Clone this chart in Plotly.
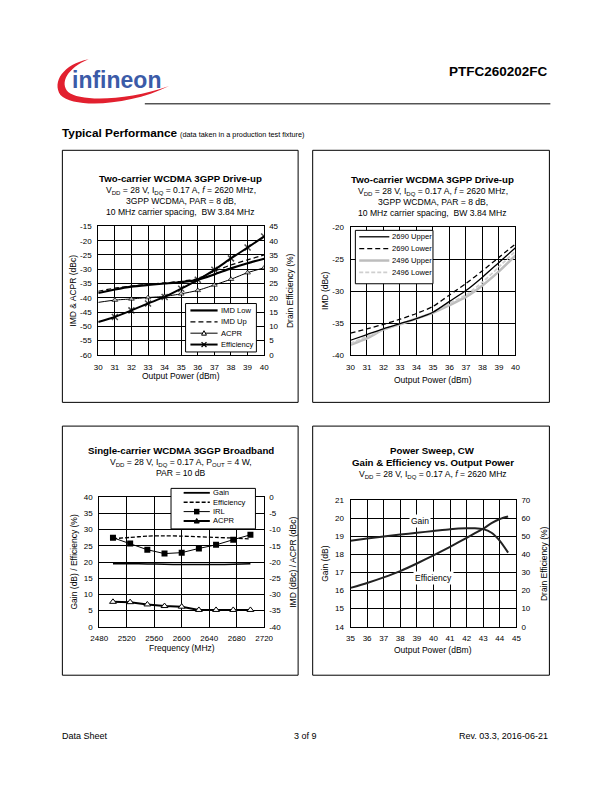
import plotly.graph_objects as go

# Figure kept slightly smaller than the 612x792 window so the page never
# overflows; coordinates below are page pixels measured on the reference.
W, H = 604, 784
FONT = "Liberation Sans, Arial, Helvetica, sans-serif"

def px(x):
    return x / W

def py(y):
    return 1 - y / H

# ---------------- data ----------------
# Chart 1: Two-carrier WCDMA drive-up
c1_pout = [30, 31, 32, 33, 34, 35, 36, 37, 38, 39, 40]
c1_imd_low = [-38.3, -37.1, -36.1, -35.5, -35.0, -34.5, -33.7, -31.8, -29.7, -27.9, -26.3]
c1_imd_up = [-37.7, -36.6, -35.9, -35.3, -34.8, -34.2, -33.3, -30.7, -28.5, -26.7, -25.0]
c1_acpr = [-41.6, -40.8, -40.4, -39.9, -39.5, -38.6, -37.4, -35.5, -33.5, -31.2, -29.5]
c1_eff = [11.5, 13.3, 15.6, 18.0, 20.3, 23.2, 26.3, 29.8, 33.8, 37.6, 41.5]
c1_left_ticks = [-60, -55, -50, -45, -40, -35, -30, -25, -20, -15]

# Chart 2: IMD vs output power at two frequencies
c2_pout = [30, 31, 32, 33, 34, 35, 36, 37, 38, 39, 40]
c2_2690_upper = [-37.7, -36.8, -35.9, -35.1, -34.3, -33.3, -31.6, -29.9, -27.8, -25.5, -23.2]
c2_2690_lower = [-36.6, -35.9, -35.2, -34.4, -33.5, -32.4, -30.6, -28.8, -26.8, -24.7, -22.6]
c2_2496_upper = [-38.4, -37.4, -36.0, -35.2, -34.3, -33.4, -32.2, -30.9, -29.1, -26.9, -24.4]
c2_2496_lower = [-38.2, -37.1, -36.1, -35.2, -34.3, -33.3, -31.9, -30.6, -28.6, -26.2, -23.7]
c2_ticks = [-40, -35, -30, -25, -20]

# Chart 3: Single-carrier broadband
c3_freq = [2500, 2525, 2550, 2575, 2600, 2625, 2650, 2675, 2700]
c3_gain = [19.5, 19.5, 19.4, 19.3, 19.2, 19.2, 19.2, 19.3, 19.5]
c3_eff = [27.2, 27.6, 28.0, 28.1, 28.0, 27.8, 27.6, 27.4, 27.1]
c3_irl = [-12.5, -14.3, -16.2, -17.4, -17.1, -15.8, -14.7, -13.1, -11.6]
c3_acpr = [-32.3, -32.4, -33.1, -33.6, -33.8, -34.8, -34.8, -34.8, -34.8]
c3_right_ticks = [-40, -35, -30, -25, -20, -15, -10, -5, 0]

# Chart 4: Power sweep CW
c4_pout = [35, 36, 37, 38, 39, 40, 41, 42, 42.5, 43, 43.5, 44, 44.5]
c4_gain = [18.76, 18.88, 19.0, 19.1, 19.2, 19.3, 19.4, 19.45, 19.45, 19.4, 19.2, 18.75, 18.1]
c4_eff = [21.5, 24.2, 27.3, 30.8, 35.0, 39.5, 44.2, 49.2, 51.8, 54.3, 57.3, 59.6, 61.0]

# ---------------- figure ----------------
fig = go.Figure()

def add(x, y, xa, ya, color="black", width=1, dash="solid", shape="spline",
        marker=None, name=""):
    mode = "lines+markers" if marker else "lines"
    tr = dict(x=x, y=y, xaxis=xa, yaxis=ya, mode=mode, name=name,
              showlegend=False, hoverinfo="skip",
              line=dict(color=color, width=width, dash=dash, shape=shape,
                        smoothing=0.6))
    if marker:
        tr["marker"] = marker
    fig.add_trace(go.Scatter(**tr))

# Chart 1
add(c1_pout, c1_imd_low, "x", "y", width=2.2, name="IMD Low")
add(c1_pout, c1_imd_up, "x", "y", width=1.2, dash="5px,3px", name="IMD Up")
add(c1_pout, c1_acpr, "x", "y", width=1, name="ACPR",
    marker=dict(symbol="triangle-up", size=[0] + [5] * 10, color="white",
                line=dict(color="black", width=1)))
add(c1_pout, c1_eff, "x", "y2", width=2.0, name="Efficiency",
    marker=dict(symbol="x-thin-open", size=[0] + [6] * 10, color="black",
                line=dict(color="black", width=1.5)))

# Chart 2
add(c2_pout, c2_2496_upper, "x2", "y3", color="#BDBDBD", width=2.5, name="2496 Upper")
add(c2_pout, c2_2496_lower, "x2", "y3", color="#CFCFCF", width=1.8, dash="4px,2px", name="2496 Lower")
add(c2_pout, c2_2690_upper, "x2", "y3", color="black", width=1.3, name="2690 Upper")
add(c2_pout, c2_2690_lower, "x2", "y3", color="black", width=1.3, dash="5px,3px", name="2690 Lower")

# Chart 3
add(c3_freq, c3_gain, "x3", "y4", width=1.5, name="Gain")
add(c3_freq, c3_eff, "x3", "y4", width=1.3, dash="4px,2px", name="Efficiency")
add(c3_freq, c3_irl, "x3", "y5", width=1, shape="linear", name="IRL",
    marker=dict(symbol="square", size=6, color="black"))
add(c3_freq, c3_acpr, "x3", "y5", width=2, shape="linear", name="ACPR",
    marker=dict(symbol="triangle-up", size=6, color="white",
                line=dict(color="black", width=1)))

# Chart 4
add(c4_pout, c4_gain, "x4", "y6", color="#222222", width=2, name="Gain")
add(c4_pout, c4_eff, "x4", "y7", color="#222222", width=2, name="Efficiency")

# ---------------- axes ----------------
def base_axis(domain, rng, dtick, anchor, grid=True, ticks=None):
    d = dict(domain=domain, range=rng, dtick=dtick, tick0=rng[0], anchor=anchor,
             showline=True, mirror=True, linecolor="black", linewidth=1,
             showgrid=grid, gridcolor="black", gridwidth=1, zeroline=False,
             ticks="", ticklabelstandoff=4, fixedrange=True,
             tickfont=dict(size=8, color="black", family=FONT))
    if ticks is not None:
        d.update(tickmode="array", tickvals=ticks, ticktext=[str(t) for t in ticks])
    return d

def right_axis(rng, dtick, anchor, overlay, ticks=None):
    d = base_axis(None, rng, dtick, anchor, grid=False, ticks=ticks)
    d.pop("domain")
    d.update(side="right", overlaying=overlay, showline=False, mirror=False)
    return d

c1x = [px(92), px(263)]
c1y = [py(355), py(225)]
c2x = [px(352), px(522)]
c2y = [py(355), py(226)]
c3x = [px(93), px(263)]
c3y = [py(630), py(499)]
c4x = [px(352), px(523)]
c4y = [py(630), py(502)]

fig.update_layout(
    xaxis=base_axis(c1x, [30, 40], 1, "y"),
    yaxis=base_axis(c1y, [-60, -15], 5, "x", ticks=c1_left_ticks),
    yaxis2=right_axis([0, 45], 5, "x", "y"),
    xaxis2=base_axis(c2x, [30, 40], 1, "y3"),
    yaxis3=base_axis(c2y, [-40, -20], 5, "x2", ticks=c2_ticks),
    xaxis3=base_axis(c3x, [2480, 2720], 40, "y4"),
    yaxis4=base_axis(c3y, [0, 40], 5, "x3"),
    yaxis5=right_axis([-40, 0], 5, "x3", "y4", ticks=c3_right_ticks),
    xaxis4=base_axis(c4x, [35, 45], 1, "y6"),
    yaxis6=base_axis(c4y, [14, 21], 1, "x4"),
    yaxis7=right_axis([0, 70], 10, "x4", "y6"),
)

# ---------------- shapes & annotations ----------------
shapes = []
annots = []

def P(x, y):
    return f"{px(x):.5f},{py(y):.5f}"

def rect(x0, y0, x1, y1, width=1, fill="rgba(0,0,0,0)"):
    shapes.append(dict(type="rect", xref="paper", yref="paper",
                       x0=px(x0), x1=px(x1), y0=py(y0), y1=py(y1),
                       line=dict(color="black", width=width), fillcolor=fill))

def hline(x0, x1, y, color="black", width=1, dash="solid"):
    shapes.append(dict(type="line", xref="paper", yref="paper",
                       x0=px(x0), x1=px(x1), y0=py(y), y1=py(y),
                       line=dict(color=color, width=width, dash=dash)))

def text(x, y, s, size=9, bold=False, anchor="center", angle=0, color="black",
         family=FONT, bg=None, xref="paper", yref="paper"):
    if bold:
        s = f"<b>{s}</b>"
    a = dict(x=px(x) if xref == "paper" else x, y=py(y) if yref == "paper" else y,
             xref=xref, yref=yref, text=s, showarrow=False,
             xanchor=anchor, yanchor="middle", textangle=angle,
             font=dict(size=size, color=color, family=family))
    if bg:
        a["bgcolor"] = bg
    annots.append(a)

# Panel frames
rect(55, 148, 298, 403)
rect(313, 148, 557, 403)
rect(55, 427, 298, 679)
rect(313, 427, 557, 679)

# Header
shapes.append(dict(type="path", xref="paper", yref="paper",
                   path=(f"M {P(82,56)} C {P(56,61)} {P(44,79)} {P(53,92)} "
                         f"C {P(67,106)} {P(124,103)} {P(165,83)} "
                         f"C {P(122,98)} {P(73,99)} {P(61,89)} "
                         f"C {P(52,80)} {P(60,65)} {P(82,56)} Z"),
                   fillcolor="#E2202F", line=dict(width=0)))
text(111, 77, "infineon", size=23, bold=True, color="#3B5BA8")
text(558, 68, "PTFC260202FC", size=13.5, bold=True, anchor="right")
hline(140, 558, 101, width=1)
text(53, 131, "Typical Performance", size=11.8, bold=True, anchor="left")
text(174, 132, "(data taken in a production test fixture)", size=7.3, anchor="left")

# Footer
text(53, 741, "Data Sheet", size=9, anchor="left")
text(306, 741, "3 of 9", size=9)
text(558, 741, "Rev. 03.3, 2016-06-21", size=9, anchor="right")

SUB = "V<sub>DD</sub> = 28 V, I<sub>DQ</sub> = 0.17 A, <i>f</i> = 2620 MHz,"
TS, SS, AS = 9.7, 8.6, 8.5

# Chart 1 titles
text(177, 177, "Two-carrier WCDMA 3GPP Drive-up", size=TS, bold=True)
text(177, 188.5, SUB, size=SS)
text(177, 199.5, "3GPP WCDMA, PAR = 8 dB,", size=SS)
text(177, 210.5, "10 MHz carrier spacing,  BW 3.84 MHz", size=SS)
text(66, 290, "IMD & ACPR (dBc)", size=AS, angle=-90)
text(289, 290, "Drain Efficiency (%)", size=AS, angle=-90)
text(177, 376, "Output Power (dBm)", size=AS)

# Chart 2 titles
text(437, 178, "Two-carrier WCDMA 3GPP Drive-up", size=TS, bold=True)
text(437, 189.5, SUB, size=SS)
text(437, 200.5, "3GPP WCDMA, PAR = 8 dB,", size=SS)
text(437, 211.5, "10 MHz carrier spacing,  BW 3.84 MHz", size=SS)
text(325, 290, "IMD (dBc)", size=AS, angle=-90)
text(437, 380, "Output Power (dBm)", size=AS)

# Chart 3 titles
text(177, 452, "Single-carrier WCDMA 3GGP Broadband", size=TS, bold=True)
text(177, 463.5, "V<sub>DD</sub> = 28 V, I<sub>DQ</sub> = 0.17 A, P<sub>OUT</sub> = 4 W,", size=SS)
text(177, 474, "PAR = 10 dB", size=SS)
text(67, 565, "Gain (dB) / Efficiency (%)", size=AS, angle=-90)
text(292, 565, "IMD (dBc) / ACPR (dBc)", size=AS, angle=-90)
text(178, 651, "Frequency (MHz)", size=AS)

# Chart 4 titles
text(437, 452, "Power Sweep, CW", size=TS, bold=True)
text(437, 464, "Gain & Efficiency vs. Output Power", size=TS, bold=True)
text(437, 476, "V<sub>DD</sub> = 28 V, I<sub>DQ</sub> = 0.17 A, <i>f</i> = 2620 MHz", size=SS)
text(325, 566, "Gain (dB)", size=AS, angle=-90)
text(551, 566, "Drain Efficiency (%)", size=AS, angle=-90)
text(437, 653, "Output Power (dBm)", size=AS)
# in-plot labels chart 4
text(39.2, 19.83, "Gain", size=AS, bg="white", xref="x4", yref="y6")
text(40.0, 16.7, "Efficiency", size=AS, bg="white", xref="x4", yref="y6")

# ---------------- custom legends ----------------
def tri(cx, cy, s=3, fill="white"):
    shapes.append(dict(type="path", xref="paper", yref="paper",
                       path=f"M {P(cx-s, cy+s*0.8)} L {P(cx+s, cy+s*0.8)} L {P(cx, cy-s)} Z",
                       fillcolor=fill, line=dict(color="black", width=1)))

def sq(cx, cy, s=2.8):
    shapes.append(dict(type="rect", xref="paper", yref="paper",
                       x0=px(cx-s), x1=px(cx+s), y0=py(cy+s), y1=py(cy-s),
                       fillcolor="black", line=dict(color="black", width=0)))

def xmark(cx, cy, s=2.5):
    for d in (1, -1):
        shapes.append(dict(type="line", xref="paper", yref="paper",
                           x0=px(cx-s), x1=px(cx+s), y0=py(cy-s*d), y1=py(cy+s*d),
                           line=dict(color="black", width=1.2)))

LS = 7.6
# Legend chart 1
rect(182, 303, 255, 352, fill="white")
rows = [310, 321.5, 333, 344.5]
hline(187, 215, rows[0], width=2.2)
hline(187, 215, rows[1], width=1.2, dash="5px,3px")
hline(187, 215, rows[2], width=1)
tri(201, rows[2], s=2.5)
hline(187, 215, rows[3], width=2)
xmark(201, rows[3])
for r, s in zip(rows, ["IMD Low", "IMD Up", "ACPR", "Efficiency"]):
    text(216, r, s, size=LS, anchor="left")

# Legend chart 2
rect(357, 229, 437, 283, fill="white")
rows = [235.5, 247.5, 259.5, 271.5]
hline(361, 392, rows[0], width=1.3)
hline(361, 392, rows[1], width=1.3, dash="5px,3px")
hline(361, 392, rows[2], color="#BDBDBD", width=2.5)
hline(361, 392, rows[3], color="#CFCFCF", width=1.8, dash="4px,2px")
for r, s in zip(rows, ["2690 Upper", "2690 Lower", "2496 Upper", "2496 Lower"]):
    text(393, r, s, size=LS, anchor="left")

# Legend chart 3
rect(167, 490, 254, 531, fill="white")
rows = [494.5, 504, 513.5, 523]
hline(180, 207, rows[0], width=1.8)
hline(180, 207, rows[1], width=1.4, dash="4px,2px")
hline(180, 207, rows[2], width=1)
sq(193.5, rows[2])
hline(180, 207, rows[3], width=2)
tri(193.5, rows[3], s=2.6, fill="black")
for r, s in zip(rows, ["Gain", "Efficiency", "IRL", "ACPR"]):
    text(208, r, s, size=LS, anchor="left")

fig.update_layout(
    width=W, height=H, margin=dict(l=0, r=0, t=0, b=0),
    paper_bgcolor="white", plot_bgcolor="white",
    font=dict(family=FONT, color="black", size=9),
    shapes=shapes, annotations=annots, showlegend=False,
)

fig.write_html("out.html", config={"displayModeBar": False})
